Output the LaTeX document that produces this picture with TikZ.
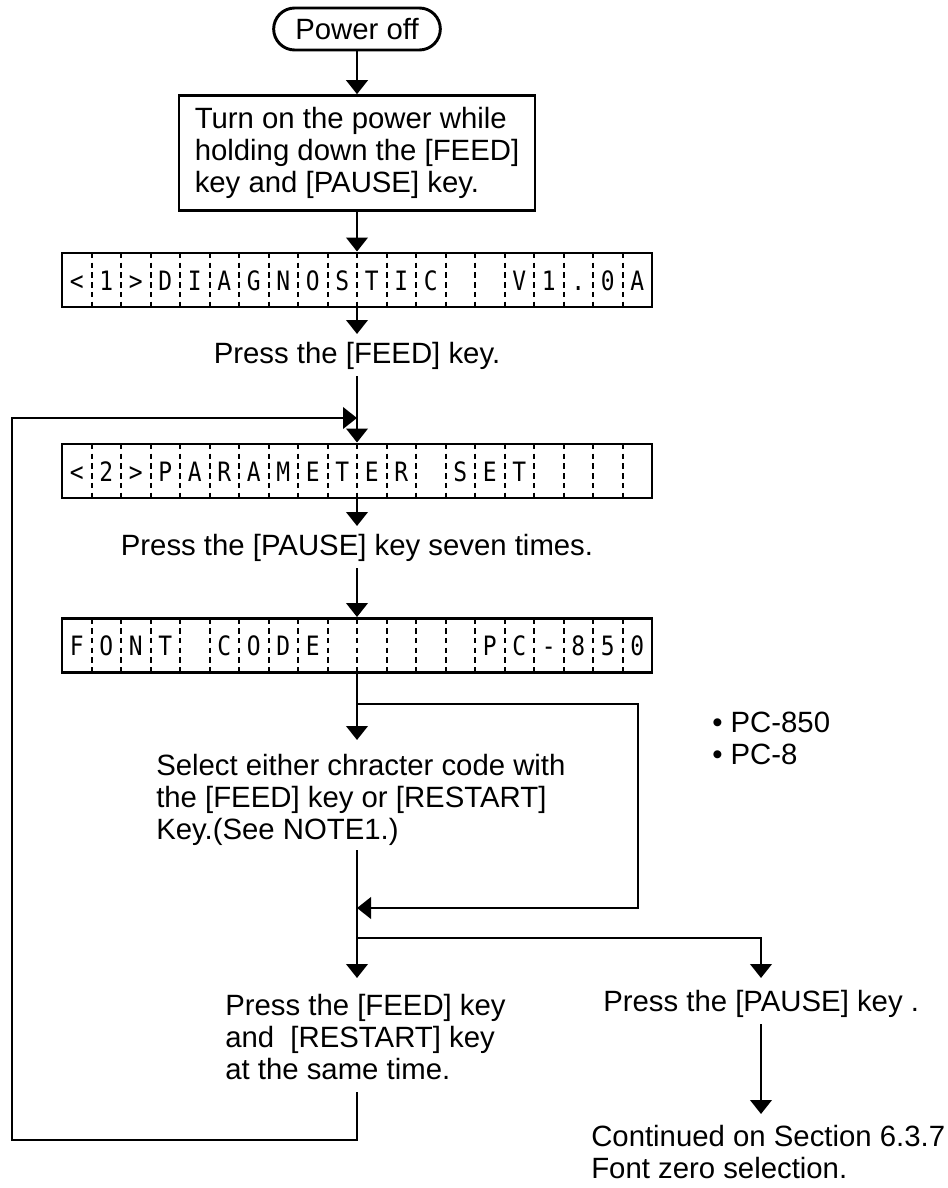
\documentclass[tikz,border=0pt]{standalone}
\usepackage{fontspec}
\usepackage{graphicx}
\setmainfont{Liberation Sans}
\newfontfamily\lcdfont{DejaVu Sans Mono}
\usetikzlibrary{arrows.meta,shapes.misc}
\tikzset{
  ln/.style={line width=2.2pt},
  arr/.style={ln,-{Triangle[width=16pt,length=10.5pt]}},
  bodyfont/.style={font=\fontsize{22}{24}\selectfont},
  body/.style={bodyfont, inner sep=0pt, align=left},
  term/.style={draw, ln, rounded rectangle, minimum width=125pt, minimum height=31.5pt, inner sep=0pt, bodyfont},
  stepbox/.style={draw, ln, minimum width=267pt, minimum height=86pt, inner sep=0pt, align=left, bodyfont},
  lcdbox/.style={draw, ln, minimum width=442.5pt, minimum height=40.5pt, inner sep=0pt},
  lcdch/.style={font=\lcdfont\fontsize{20}{20}\selectfont, inner sep=0pt, anchor=base},
  div/.style={line width=1.5pt, dash pattern=on 4.1pt off 3.18pt},
}
\newcommand\drawlcd[3]{%
  \node[lcdbox] (#1) at (357,#2) {};
  \foreach \k in {1,...,19}
    \draw[div] ({62+\k*29.5},{#2-27}) -- ({62+\k*29.5},{#2+27});
  \foreach \c [count=\i] in {#3}
    \node[lcdch] (#1c\i) at ({62+(\i-0.5)*29.5},{#2+10}) {\scalebox{0.86}[1]{\c}};
}
\begin{document}
\begin{tikzpicture}[x=0.75pt,y=-0.75pt]
\useasboundingbox (0,0) rectangle (947,1188);

% start
\node[term] (off) at (357,29) {Power off};
\node[stepbox] (turn) at (357,153) {Turn on the power while\\holding down the [FEED]\\key and [PAUSE] key.};
\draw[arr] (off.south) -- (turn.north);

% LCD displays
\drawlcd{lcdA}{280}{<,1,>,D,I,A,G,N,O,S,T,I,C,{},{},V,1,.,0,A}
\drawlcd{lcdB}{471}{<,2,>,P,A,R,A,M,E,T,E,R,{},S,E,T,{},{},{},{}}
\drawlcd{lcdC}{645.5}{F,O,N,T,{},C,O,D,E,{},{},{},{},{},P,C,-,8,5,0}

\draw[arr] (turn.south) -- (lcdA.north);

% step texts
\node[body] (press1) at (357,356) {Press the [FEED] key.};
\node[body] (press2) at (357,548) {Press the [PAUSE] key seven times.};
\node[body, anchor=west] (sel) at (156,800) {Select either chracter code with\\the [FEED] key or [RESTART]\\Key.(See NOTE1.)};
\node[body, anchor=west] (opts) at (712,738) {\textbullet\ PC-850\\\textbullet\ PC-8};
\node[body, anchor=west] (feedtxt) at (225,1037) {Press the [FEED] key\\and\ \ [RESTART] key\\at the same time.};
\node[body, anchor=west] (pausetxt) at (603,1004) {Press the [PAUSE] key .};
\node[body, anchor=west] (cont) at (591,1152) {Continued on Section 6.3.7\\Font zero selection.};

% coordinates
\coordinate (t1) at (357,334);
\coordinate (s2) at (357,376);
\coordinate (fbe) at (357,418);
\coordinate (t3) at (357,526);
\coordinate (s4) at (357,568);
\coordinate (j1) at (357,704);
\coordinate (t5) at (357,740);
\coordinate (rt) at (638,704);
\coordinate (rback) at (357,908);
\coordinate (s6) at (357,850);
\coordinate (j2) at (357,938);
\coordinate (t6) at (357,978);
\coordinate (ptip) at (761,978);
\coordinate (ps) at (761,1024);
\coordinate (ctip) at (761,1114);
\coordinate (fbs) at (357,1092);
\coordinate (fbc) at (12,1140);

% connectors
\draw[arr] (lcdA.south) -- (t1);
\draw[arr] (s2) -- (lcdB.north);
\draw[arr] (fbs) |- (fbc) |- (fbe);
\draw[arr] (lcdB.south) -- (t3);
\draw[arr] (s4) -- (lcdC.north);
\draw[arr] (lcdC.south) -- (t5);
\draw[arr] (j1) -- (rt) |- (rback);
\draw[arr] (s6) -- (t6);
\draw[arr] (j2) -| (ptip);
\draw[arr] (ps) -- (ctip);
\end{tikzpicture}
\end{document}
